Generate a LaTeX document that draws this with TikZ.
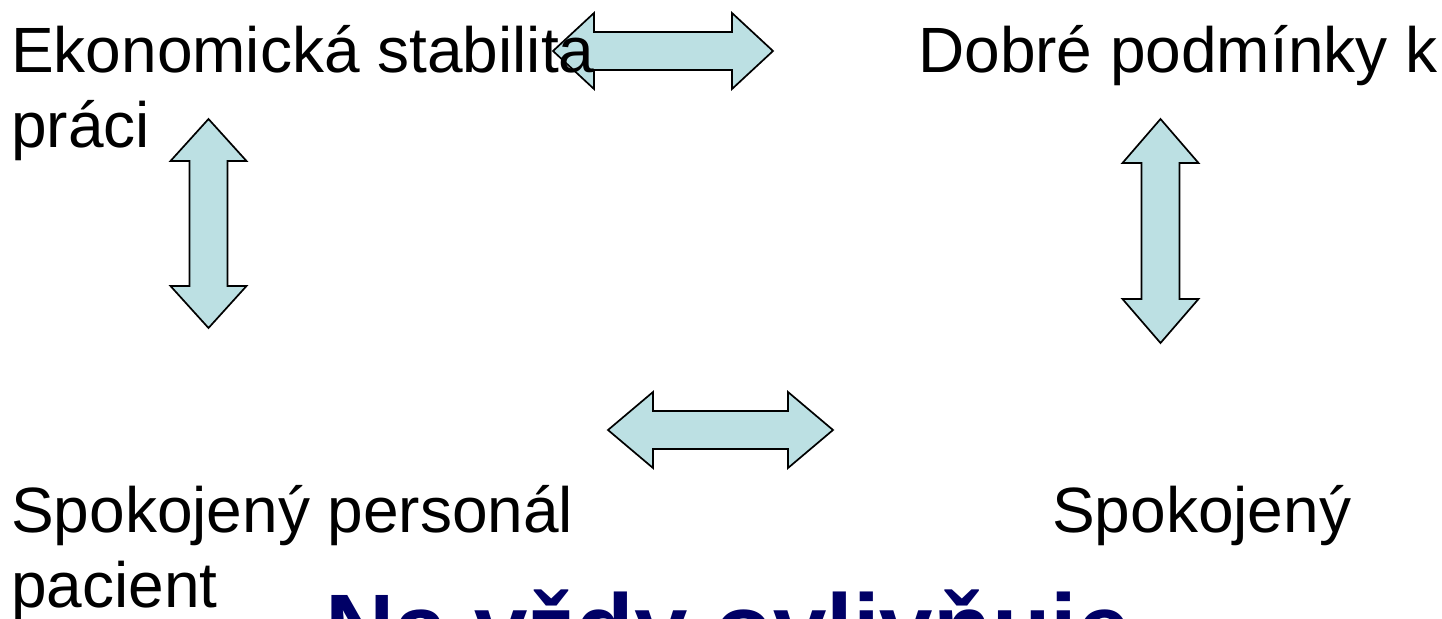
\documentclass[tikz,border=0pt]{standalone}
\usepackage{fontspec}
\setmainfont{Liberation Sans}
\definecolor{arrowfill}{RGB}{188,224,227}
\definecolor{navytext}{RGB}{0,0,102}
% horizontal double block arrow: {left tip x}{right tip x}{centre y}{head length}
\newcommand\hdblarrow[4]{%
  \draw[blockarrow] (#1,#3) -- ({#1+#4},{#3-38}) -- ({#1+#4},{#3-19})
    -- ({#2-#4},{#3-19}) -- ({#2-#4},{#3-38}) -- (#2,#3)
    -- ({#2-#4},{#3+38}) -- ({#2-#4},{#3+19}) -- ({#1+#4},{#3+19})
    -- ({#1+#4},{#3+38}) -- cycle;}
% vertical double block arrow: {top tip y}{bottom tip y}{centre x}{head length}
\newcommand\vdblarrow[4]{%
  \draw[blockarrow] (#3,#1) -- ({#3+38},{#1+#4}) -- ({#3+19},{#1+#4})
    -- ({#3+19},{#2-#4}) -- ({#3+38},{#2-#4}) -- (#3,#2)
    -- ({#3-38},{#2-#4}) -- ({#3-19},{#2-#4}) -- ({#3-19},{#1+#4})
    -- ({#3-38},{#1+#4}) -- cycle;}
\begin{document}
\begin{tikzpicture}[x=1pt,y=-1pt,
  blockarrow/.style={draw=black,fill=arrowfill,line width=1.7pt,line join=miter},
  label/.style={inner sep=0pt,anchor=base west,font=\fontsize{64}{76}\selectfont},
  headline/.style={inner sep=0pt,anchor=base west,text=navytext,
    font=\fontsize{96}{110}\selectfont\bfseries}]
\useasboundingbox (0,0) rectangle (1442,618);
\clip (0,0) rectangle (1442,618);
% block arrows
\hdblarrow{553}{773}{51}{41}
\hdblarrow{608}{833}{430}{45}
\vdblarrow{119}{328}{208.5}{42}
\vdblarrow{119}{343}{1160.5}{44}
% texts
\node[label] (eko) at (11,72) {Ekonomická stabilita};
\node[label] (prac) at (11,147) {práci};
\node[label] (dobre) at (918,72) {Dobré podmínky k};
\node[label] (pers) at (11,532) {Spokojený personál};
\node[label] (pac) at (11,607) {pacient};
\node[label] (spok) at (1052,532) {Spokojený};
\node[headline] (title) at (325,661) {Na vždy ovlivňuje};
\end{tikzpicture}
\end{document}
